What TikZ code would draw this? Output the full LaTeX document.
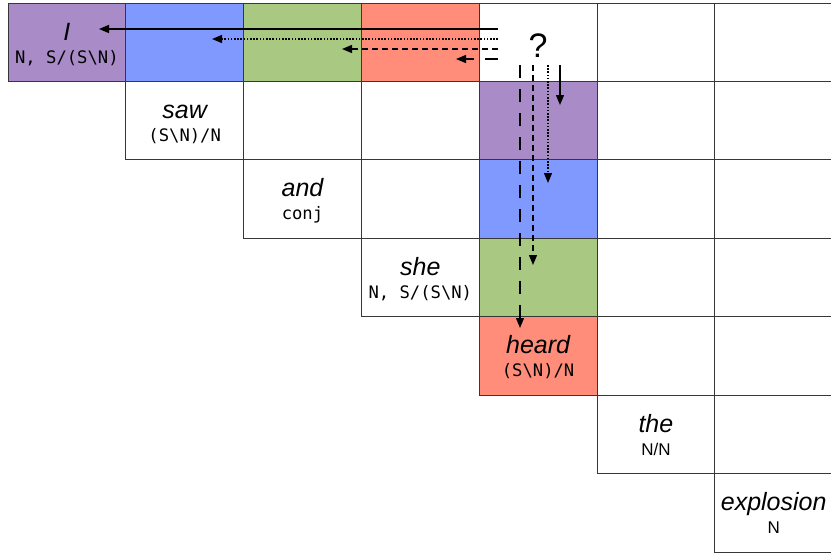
\documentclass[tikz,border=0pt]{standalone}
\usepackage{fontspec}
\setmainfont{Liberation Sans}
\newfontfamily\catfont{DejaVu Sans Mono}
\usetikzlibrary{arrows.meta,calc}

\definecolor{cpurple}{RGB}{169,139,199}
\definecolor{cblue}{RGB}{128,153,255}
\definecolor{cgreen}{RGB}{169,200,130}
\definecolor{cred}{RGB}{255,141,122}
\definecolor{gridline}{RGB}{55,55,55}

\begin{document}
\begin{tikzpicture}[x=1pt,y=-1pt,
  cell/.style={draw=gridline, line width=0.9pt, fill=white,
    minimum width=117.8pt, minimum height=78.43pt, inner sep=0pt,
    outer sep=0pt, anchor=north west},
  % the last column runs past the right edge of the page
  col 6/.style={minimum width=140pt},
  fill 00/.style={fill=cpurple}, fill 01/.style={fill=cblue},
  fill 02/.style={fill=cgreen},  fill 03/.style={fill=cred},
  fill 14/.style={fill=cpurple}, fill 24/.style={fill=cblue},
  fill 34/.style={fill=cgreen},  fill 44/.style={fill=cred},
  word/.style={font=\fontsize{25}{25}\selectfont\itshape, anchor=base, inner sep=0pt},
  cat/.style={font=\fontsize{17.2}{17}\catfont, anchor=base, inner sep=0pt},
  catsans/.style={font=\fontsize{17}{17}\selectfont, anchor=base, inner sep=0pt},
  flow/.style={line width=1.3pt, -{Triangle[length=10pt,width=8pt]}},
  dotflow/.style={flow, dash pattern=on 1.6pt off 1.6pt},
  dashflow/.style={flow, dash pattern=on 6pt off 4pt},
  longflow/.style={flow, dash pattern=on 13pt off 11pt}
]
\useasboundingbox (0,0) rectangle (831,554);
\clip (0,0) rectangle (831,554);

% upper-triangular chart: row i holds cells i..6
\foreach \i in {0,...,6}{
  \foreach \j in {\i,...,6}{
    \node[cell, col \j/.try, fill \i\j/.try] (c\i\j) at ({8+117.8*\j},{3+78.43*\i}) {};
  }
}

% words and their categories on the diagonal
\node[word] (w0) at ($(c00.north)+(0,37)$) {I};
\node[cat]  (k0) at ($(c00.north)+(0,60)$) {N, S/(S\textbackslash N)};
\node[word] (w1) at ($(c11.north)+(0,37)$) {saw};
\node[cat]  (k1) at ($(c11.north)+(0,60)$) {(S\textbackslash N)/N};
\node[word] (w2) at ($(c22.north)+(0,37)$) {and};
\node[cat]  (k2) at ($(c22.north)+(0,60)$) {conj};
\node[word] (w3) at ($(c33.north)+(0,37)$) {she};
\node[cat]  (k3) at ($(c33.north)+(0,60)$) {N, S/(S\textbackslash N)};
\node[word] (w4) at ($(c44.north)+(0,37)$) {heard};
\node[cat]  (k4) at ($(c44.north)+(0,60)$) {(S\textbackslash N)/N};
\node[word] (w5) at ($(c55.north)+(0,37)$) {the};
\node[catsans] (k5) at ($(c55.north)+(0,60)$) {N/N};
\node[word] (w6) at ($(c66.north west)+(58.9,37)$) {explosion};
\node[catsans] (k6) at ($(c66.north west)+(58.9,60)$) {N};

% the open cell
\node[font=\fontsize{34}{34}\selectfont, anchor=base, inner sep=0pt] (q) at (538,57) {?};

% start and end points of the lookups
\coordinate (hs1) at (498,29);  \coordinate (he1) at (99,29);
\coordinate (hs2) at (498,39);  \coordinate (he2) at (212,39);
\coordinate (hs3) at (498,49);  \coordinate (he3) at (342,49);
\coordinate (hs4) at (498,59);  \coordinate (he4) at (456,59);
\coordinate (vs1) at (560,65);  \coordinate (ve1) at (560,105);
\coordinate (vs2) at (548,65);  \coordinate (ve2) at (548,183);
\coordinate (vs3) at (533,65);  \coordinate (ve3) at (533,265);
\coordinate (vs4) at (520,65);  \coordinate (ve4) at (520,328);

% row lookups to the left
\draw[flow]     (hs1) -- (he1);
\draw[dotflow]  (hs2) -- (he2);
\draw[dashflow] (hs3) -- (he3);
\draw[longflow] (hs4) -- (he4);

% column lookups downwards
\draw[flow]     (vs1) -- (ve1);
\draw[dotflow]  (vs2) -- (ve2);
\draw[dashflow] (vs3) -- (ve3);
\draw[longflow] (vs4) -- (ve4);
\end{tikzpicture}
\end{document}
